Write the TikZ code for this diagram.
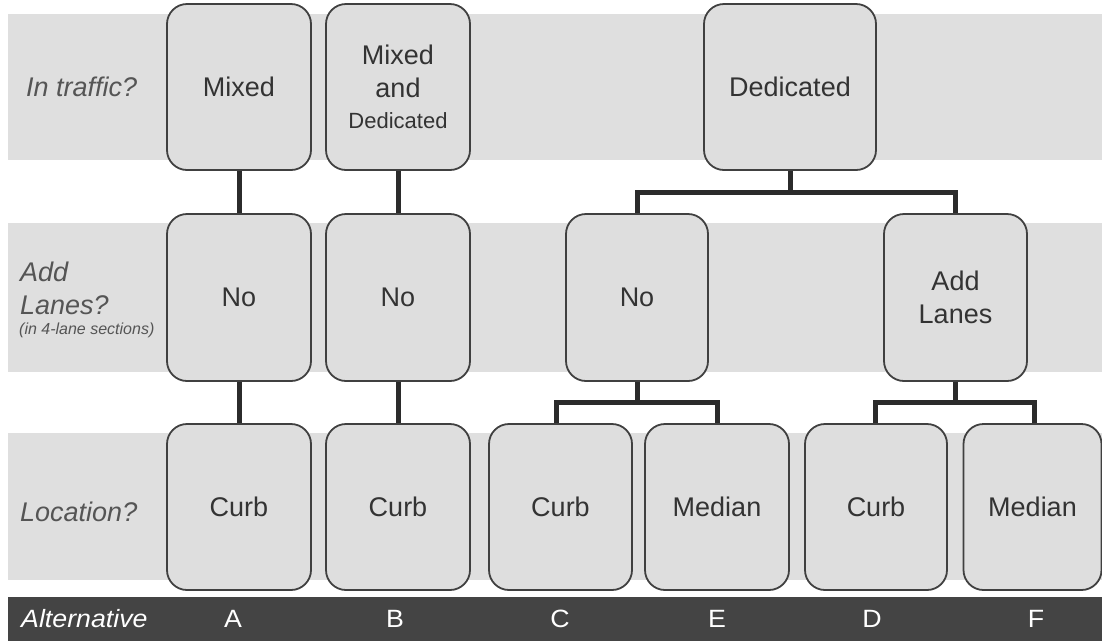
\documentclass[tikz,border=0pt]{standalone}
\usepackage{fontspec}
\setmainfont{Liberation Sans}
\definecolor{band}{HTML}{DFDFDF}
\definecolor{boxfill}{HTML}{DEDEDE}
\definecolor{boxline}{HTML}{404040}
\definecolor{bar}{HTML}{444444}
\definecolor{lbl}{HTML}{555555}
\definecolor{txt}{HTML}{333333}
\definecolor{linkc}{HTML}{2B2B2B}
\newcommand{\bartext}[1]{\scalebox{1.07}[1]{\fontsize{25}{25}\selectfont #1}}
\begin{document}
\begin{tikzpicture}[x=1pt,y=-1pt,
  choice/.style={draw=boxline, line width=1.8pt, fill=boxfill, rounded corners=20pt,
    minimum width=144pt, minimum height=166pt, inner sep=0pt, align=center,
    text=txt, font=\fontsize{27}{33}\selectfont},
  rowlabel/.style={anchor=west, text=lbl, inner sep=0pt, align=left,
    font=\fontsize{27}{33}\selectfont\itshape},
  barlabel/.style={text=white, inner sep=0pt},
  link/.style={draw=linkc, line width=5pt}
]
\useasboundingbox (0,0) rectangle (1102,641);
% bands
\fill[band] (8,14) rectangle (1102,160);
\fill[band] (8,223) rectangle (1102,372);
\fill[band] (8,433) rectangle (1102,580);
\fill[bar] (8,597) rectangle (1102,641);

% row labels
\node[rowlabel] (l1) at (26,87) {In traffic?};
\node[rowlabel] (l2) at (20,288) {Add\\Lanes?};
\node[rowlabel, font=\fontsize{16}{18}\selectfont\itshape] (l2s) at (19,330) {(in 4-lane sections)};
\node[rowlabel] (l3) at (20,512) {Location?};

% row 1
\node[choice] (A1) at (239,87) {Mixed};
\node[choice] (B1) at (398,87) {Mixed\\and\\[-2pt]{\fontsize{22}{24}\selectfont Dedicated}};
\node[choice, minimum width=172pt] (Ded) at (790,87) {Dedicated};

% row 2
\node[choice, minimum height=167pt] (A2) at (239,297.5) {No};
\node[choice, minimum height=167pt] (B2) at (398,297.5) {No};
\node[choice, minimum height=167pt, minimum width=142pt] (C2) at (637,297.5) {No};
\node[choice, minimum height=167pt, minimum width=143pt] (D2) at (955.5,297.5) {Add\\Lanes};

% row 3
\node[choice] (A3) at (239,507) {Curb};
\node[choice] (B3) at (398,507) {Curb};
\node[choice, minimum width=143pt] (C3) at (560.5,507) {Curb};
\node[choice] (E3) at (717,507) {Median};
\node[choice, minimum width=142pt] (D3) at (876,507) {Curb};
\node[choice, minimum width=138pt] (F3) at (1032.5,507) {Median};

% connectors
\draw[link] (A1.south) -- (A2.north);
\draw[link] (A2.south) -- (A3.north);
\draw[link] (B1.south) -- (B2.north);
\draw[link] (B2.south) -- (B3.north);
\draw[link] (Ded.south) -- ++(0,22) coordinate (dj);
\draw[link] (C2.north) |- (dj) -| (D2.north);
\draw[link] (C2.south) -- ++(0,21) coordinate (cj);
\draw[link] (C3.north -| 556,0) |- (cj) -| (E3.north);
\draw[link] (D2.south) -- ++(0,21) coordinate (ej);
\draw[link] (D3.north -| 875,0) |- (ej) -| (F3.north -| 1034,0);

% bottom bar
\node[barlabel, anchor=west] (alt) at (21,619) {\bartext{\itshape Alternative}};
\node[barlabel] (xa) at (233,619) {\bartext{A}};
\node[barlabel] (xb) at (395,619) {\bartext{B}};
\node[barlabel] (xc) at (560,619) {\bartext{C}};
\node[barlabel] (xe) at (717,619) {\bartext{E}};
\node[barlabel] (xd) at (872,619) {\bartext{D}};
\node[barlabel] (xf) at (1036,619) {\bartext{F}};
\end{tikzpicture}
\end{document}
